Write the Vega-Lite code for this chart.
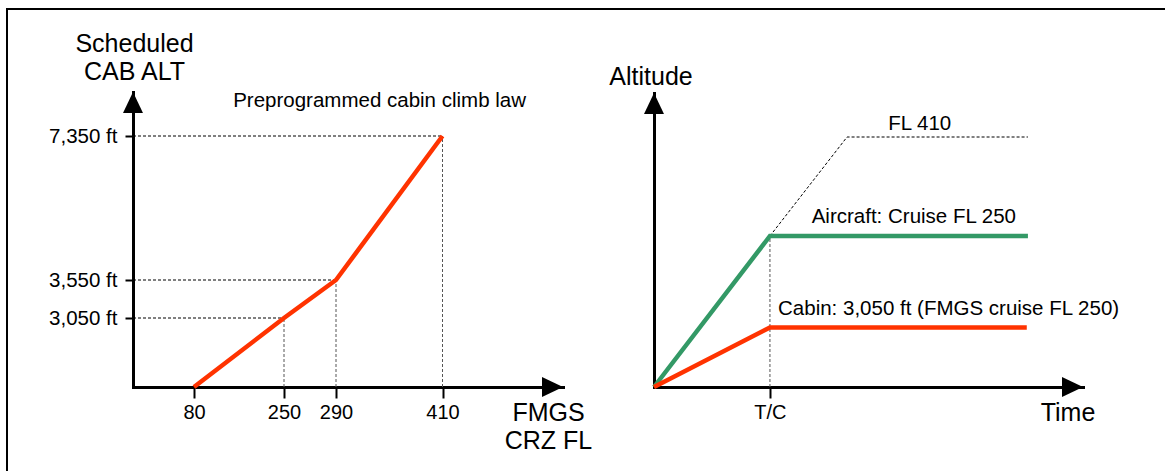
{
  "$schema": "https://vega.github.io/schema/vega-lite/v6.json",
  "width": 1158,
  "height": 462,
  "autosize": {"type": "none"},
  "padding": {"left": 7, "top": 9, "right": 0, "bottom": 0},
  "background": "white",
  "view": {"stroke": "black", "strokeWidth": 2, "strokeDash": [1158, 1620, 462, 4]},
  "config": {
    "font": "Liberation Sans",
    "style": {"cell": {"stroke": "black", "strokeWidth": 2, "strokeDash": [1158, 1620, 462, 4]}},
    "axis": {
      "grid": false,
      "domainColor": "black",
      "domainWidth": 3,
      "domainCap": "square",
      "tickColor": "black",
      "tickWidth": 2,
      "labelColor": "black",
      "titleColor": "black",
      "labelFont": "Liberation Sans",
      "titleFont": "Liberation Sans",
      "titleFontWeight": "normal",
      "labelFlush": false,
      "labelOverlap": false,
      "labelBound": false
    }
  },
  "datasets": {
    "cabinLaw": [
      {"fl": 80, "cab": 0},
      {"fl": 250, "cab": 3050},
      {"fl": 290, "cab": 3550},
      {"fl": 410, "cab": 7350}
    ],
    "lawGuides": [
      {"kind": "h", "fl": 0, "cab": 3050, "fl2": 250, "cab2": 3050},
      {"kind": "h", "fl": 0, "cab": 3550, "fl2": 290, "cab2": 3550},
      {"kind": "h", "fl": 0, "cab": 7350, "fl2": 410, "cab2": 7350},
      {"kind": "v", "fl": 250, "cab": 0, "fl2": 250, "cab2": 3050},
      {"kind": "v", "fl": 290, "cab": 0, "fl2": 290, "cab2": 3550},
      {"kind": "v", "fl": 410, "cab": 0, "fl2": 410, "cab2": 7350}
    ],
    "leftArrows": [
      {"fl": 530, "cab": 0, "dir": "right"},
      {"fl": 0, "cab": 10000, "dir": "up"}
    ],
    "leftNotes": [
      {"fl": 154, "cab": 9115, "label": "Preprogrammed cabin climb law"}
    ],
    "profiles": [
      {"series": "Aircraft", "t": 0, "alt": 0},
      {"series": "Aircraft", "t": 20, "alt": 25000},
      {"series": "Aircraft", "t": 64.5, "alt": 25000},
      {"series": "Cabin", "t": 0, "alt": 0},
      {"series": "Cabin", "t": 20, "alt": 3050},
      {"series": "Cabin", "t": 64.3, "alt": 3050}
    ],
    "fl410": [
      {"t": 20, "alt": 25000},
      {"t": 33.3, "alt": 41000},
      {"t": 64.5, "alt": 41000}
    ],
    "topOfClimb": [
      {"t": 20, "alt": 0, "t2": 20, "alt2": 25000}
    ],
    "rightArrows": [
      {"t": 74, "alt": 0, "dir": "right"},
      {"t": 0, "alt": 48300, "dir": "up"}
    ],
    "rightNotes": [
      {"t": 40.4, "alt": 42160, "label": "FL 410"},
      {"t": 27.2, "alt": 27100, "label": "Aircraft: Cruise FL 250"},
      {"t": 21.4, "alt": 6050, "label": "Cabin: 3,050 ft (FMGS cruise FL 250)"}
    ]
  },
  "layer": [
    {
      "layer": [
        {
          "data": {"name": "lawGuides"},
          "mark": {"type": "rule", "strokeWidth": 1, "strokeDash": [3, 2]},
          "encoding": {
            "x": {"field": "fl", "type": "quantitative"},
            "x2": {"field": "fl2"},
            "y": {"field": "cab", "type": "quantitative"},
            "y2": {"field": "cab2"},
            "stroke": {
              "field": "kind",
              "type": "nominal",
              "scale": {"domain": ["h", "v"], "range": ["#000000", "#555555"]},
              "legend": null
            }
          }
        },
        {
          "data": {"name": "cabinLaw"},
          "mark": {"type": "line", "color": "#FF3300", "strokeWidth": 4.5},
          "encoding": {
            "x": {
              "field": "fl",
              "type": "quantitative",
              "scale": {"domain": [0, 80, 250, 290, 410, 530], "range": [126, 187, 277, 329, 435.5, 556], "nice": false, "zero": false},
              "axis": {
                "orient": "bottom",
                "offset": -84,
                "values": [80, 250, 290, 410],
                "format": "d",
                "tickSize": 11,
                "labelFontSize": 20,
                "labelPadding": 4,
                "title": ["FMGS", "CRZ FL"],
                "titleFontSize": 25,
                "titleX": 541,
                "titleY": 33,
                "titleAlign": "center",
                "titleBaseline": "alphabetic",
                "titleAngle": 0,
                "titleLineHeight": 28
              }
            },
            "y": {
              "field": "cab",
              "type": "quantitative",
              "scale": {"domain": [0, 3050, 3550, 7350, 10000], "range": [378, 309, 271, 127, 83], "nice": false, "zero": false},
              "axis": {
                "orient": "left",
                "offset": -126,
                "values": [3050, 3550, 7350],
                "labelExpr": "format(datum.value, ',') + ' ft'",
                "tickSize": 8,
                "labelFontSize": 20.5,
                "labelPadding": 8,
                "title": ["Scheduled", "CAB ALT"],
                "titleFontSize": 25,
                "titleX": 1,
                "titleY": 42.5,
                "titleAlign": "center",
                "titleBaseline": "alphabetic",
                "titleAngle": 0,
                "titleLineHeight": 28
              }
            }
          }
        },
        {
          "data": {"name": "leftArrows"},
          "mark": {"type": "point", "filled": true, "color": "black", "opacity": 1, "size": 441},
          "encoding": {
            "x": {"field": "fl", "type": "quantitative"},
            "y": {"field": "cab", "type": "quantitative"},
            "shape": {
              "field": "dir",
              "type": "nominal",
              "scale": {"domain": ["up", "right"], "range": ["M0,0L0.95,2L-0.95,2Z", "M0,0L-2,-0.95L-2,0.95Z"]},
              "legend": null
            }
          }
        },
        {
          "data": {"name": "leftNotes"},
          "mark": {"type": "text", "align": "left", "baseline": "alphabetic", "fontSize": 20.5, "color": "black"},
          "encoding": {
            "x": {"field": "fl", "type": "quantitative"},
            "y": {"field": "cab", "type": "quantitative"},
            "text": {"field": "label"}
          }
        }
      ]
    },
    {
      "layer": [
        {
          "data": {"name": "topOfClimb"},
          "mark": {"type": "rule", "color": "#555555", "strokeWidth": 1, "strokeDash": [3, 2]},
          "encoding": {
            "x": {"field": "t", "type": "quantitative"},
            "x2": {"field": "t2"},
            "y": {"field": "alt", "type": "quantitative"},
            "y2": {"field": "alt2"}
          }
        },
        {
          "data": {"name": "fl410"},
          "mark": {"type": "line", "color": "black", "strokeWidth": 1, "strokeDash": [3, 2]},
          "encoding": {
            "x": {"field": "t", "type": "quantitative"},
            "y": {"field": "alt", "type": "quantitative"}
          }
        },
        {
          "data": {"name": "profiles"},
          "mark": {"type": "line", "strokeWidth": 4.5},
          "encoding": {
            "x": {
              "field": "t",
              "type": "quantitative",
              "scale": {"domain": [0, 74], "range": [647, 1076], "nice": false, "zero": false},
              "axis": {
                "orient": "bottom",
                "offset": -84,
                "values": [20],
                "labelExpr": "'T/C'",
                "tickSize": 11,
                "labelFontSize": 20,
                "labelPadding": 4,
                "title": "Time",
                "titleFontSize": 25,
                "titleX": 1060.5,
                "titleY": 33,
                "titleAlign": "center",
                "titleBaseline": "alphabetic",
                "titleAngle": 0
              }
            },
            "y": {
              "field": "alt",
              "type": "quantitative",
              "scale": {"domain": [0, 3050, 25000, 41000, 48300], "range": [378, 318.5, 227, 128, 84], "nice": false, "zero": false},
              "axis": {
                "orient": "left",
                "offset": -647,
                "ticks": false,
                "labels": false,
                "title": "Altitude",
                "titleFontSize": 25,
                "titleX": -3.5,
                "titleY": 75.5,
                "titleAlign": "center",
                "titleBaseline": "alphabetic",
                "titleAngle": 0
              }
            },
            "color": {
              "field": "series",
              "type": "nominal",
              "scale": {"domain": ["Aircraft", "Cabin"], "range": ["#339966", "#FF3300"]},
              "legend": null
            }
          }
        },
        {
          "data": {"name": "rightArrows"},
          "mark": {"type": "point", "filled": true, "color": "black", "opacity": 1, "size": 441},
          "encoding": {
            "x": {"field": "t", "type": "quantitative"},
            "y": {"field": "alt", "type": "quantitative"},
            "shape": {
              "field": "dir",
              "type": "nominal",
              "scale": {"domain": ["up", "right"], "range": ["M0,0L0.95,2L-0.95,2Z", "M0,0L-2,-0.95L-2,0.95Z"]},
              "legend": null
            }
          }
        },
        {
          "data": {"name": "rightNotes"},
          "mark": {"type": "text", "align": "left", "baseline": "alphabetic", "fontSize": 20.5, "color": "black"},
          "encoding": {
            "x": {"field": "t", "type": "quantitative"},
            "y": {"field": "alt", "type": "quantitative"},
            "text": {"field": "label"}
          }
        }
      ]
    }
  ],
  "resolve": {"scale": {"x": "independent", "y": "independent"}}
}
